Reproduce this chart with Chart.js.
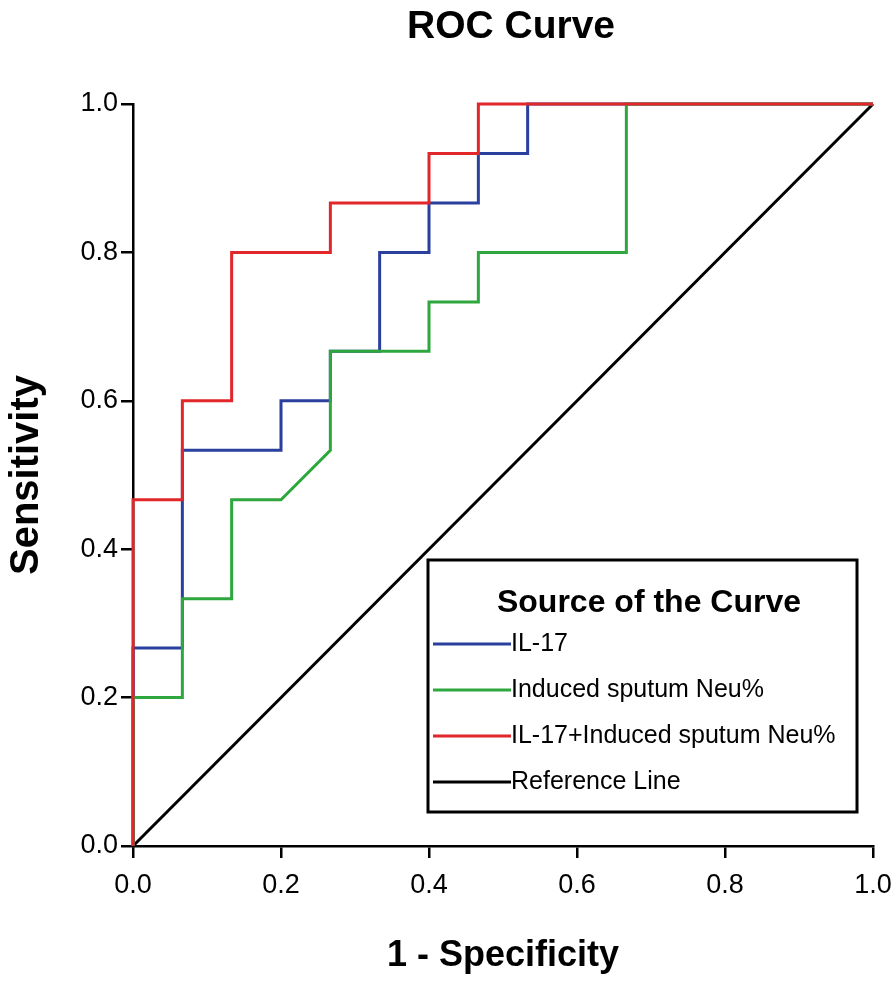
<!DOCTYPE html>
<html>
<head>
<meta charset="utf-8">
<title>ROC Curve</title>
<script src="https://cdn.jsdelivr.net/npm/chart.js@4.4.0/dist/chart.umd.min.js"></script>
<style>
  html, body { margin: 0; padding: 0; background: #fff; }
  #wrap { width: 896px; height: 981px; position: relative; }
</style>
</head>
<body>
<div id="wrap"><canvas id="rocChart"></canvas></div>
<script>
// data (steps of ~1/15)
const il17X = [0, 0, 0.0667, 0.0667, 0.2, 0.2, 0.2667, 0.2667, 0.3333, 0.3333, 0.4, 0.4, 0.4667, 0.4667, 0.5333, 0.5333, 1];
const il17Y = [0, 0.2667, 0.2667, 0.5333, 0.5333, 0.6, 0.6, 0.6667, 0.6667, 0.8, 0.8, 0.8667, 0.8667, 0.9333, 0.9333, 1, 1];

const neuX = [0, 0, 0.0667, 0.0667, 0.1333, 0.1333, 0.2, 0.2667, 0.2667, 0.4, 0.4, 0.4667, 0.4667, 0.6667, 0.6667, 1];
const neuY = [0, 0.2, 0.2, 0.3333, 0.3333, 0.4667, 0.4667, 0.5333, 0.6667, 0.6667, 0.7333, 0.7333, 0.8, 0.8, 1, 1];

const comboX = [0, 0, 0.0667, 0.0667, 0.1333, 0.1333, 0.2667, 0.2667, 0.4, 0.4, 0.4667, 0.4667, 1];
const comboY = [0, 0.4667, 0.4667, 0.6, 0.6, 0.8, 0.8, 0.8667, 0.8667, 0.9333, 0.9333, 1, 1];

const refX = [0, 1];
const refY = [0, 1];

const tickValues = [0, 0.2, 0.4, 0.6, 0.8, 1.0];
const seriesNames = ["IL-17", "Induced sputum Neu%", "IL-17+Induced sputum Neu%", "Reference Line"];
const seriesColors = ["#2b3f9e", "#2ea83e", "#e2272a", "#000000"];

const FONT = "'Liberation Sans', Arial, sans-serif";

function toPoints(xs, ys) {
  return xs.map((x, i) => ({ x: x, y: ys[i] }));
}

// legend box drawn inside the plot, like the SPSS one
const legendBox = {
  id: "legendBox",
  afterDatasetsDraw(chart) {
    const ctx = chart.ctx;
    const area = chart.chartArea;
    const left = area.left + 295;
    const top = area.top + 456;
    const w = 429;
    const h = 252;
    ctx.save();
    ctx.fillStyle = "#fff";
    ctx.fillRect(left, top, w, h);
    ctx.strokeStyle = "#000";
    ctx.lineWidth = 3;
    ctx.strokeRect(left, top, w, h);

    ctx.fillStyle = "#000";
    ctx.font = "bold 32px " + FONT;
    ctx.textAlign = "center";
    ctx.textBaseline = "middle";
    ctx.fillText("Source of the Curve", left + 221, top + 43);

    ctx.font = "25px " + FONT;
    ctx.textAlign = "left";
    seriesNames.forEach((name, i) => {
      const y = top + 84 + i * 46;
      ctx.strokeStyle = seriesColors[i];
      ctx.lineWidth = 3;
      ctx.beginPath();
      ctx.moveTo(left + 5, y);
      ctx.lineTo(left + 83, y);
      ctx.stroke();
      ctx.fillStyle = "#000";
      ctx.fillText(name, left + 83, y);
    });
    ctx.restore();
  }
};

const chartTitle = {
  id: "chartTitle",
  afterDraw(chart) {
    const ctx = chart.ctx;
    ctx.save();
    ctx.fillStyle = "#000";
    ctx.font = "bold 39px " + FONT;
    ctx.textAlign = "center";
    ctx.textBaseline = "alphabetic";
    ctx.fillText("ROC Curve", 511, 38);
    ctx.restore();
  }
};

const datasets = [
  { label: seriesNames[2], data: toPoints(comboX, comboY), borderColor: seriesColors[2], order: 0 },
  { label: seriesNames[1], data: toPoints(neuX, neuY), borderColor: seriesColors[1], order: 1 },
  { label: seriesNames[0], data: toPoints(il17X, il17Y), borderColor: seriesColors[0], order: 2 },
  { label: seriesNames[3], data: toPoints(refX, refY), borderColor: seriesColors[3], order: 3 }
].map(d => Object.assign(d, {
  showLine: true,
  borderWidth: 3,
  pointRadius: 0,
  tension: 0,
  fill: false,
  clip: false
}));

const axisStyle = {
  grid: { drawOnChartArea: false, drawTicks: true, tickLength: 12, color: "#000", lineWidth: 2.5 },
  border: { display: true, color: "#000", width: 2.5 }
};

const config = {
  type: "scatter",
  data: { datasets },
  options: {
    responsive: true,
    maintainAspectRatio: false,
    animation: false,
    devicePixelRatio: 1,
    layout: { padding: { top: 104, right: 23, left: 0, bottom: 0 } },
    plugins: {
      legend: { display: false },
      tooltip: { enabled: false },
      title: { display: false }
    },
    scales: {
      x: Object.assign({
        type: "linear",
        min: 0,
        max: 1,
        afterBuildTicks: s => { s.ticks = tickValues.map(v => ({ value: v })); },
        afterFit: s => { s.height = 135; s.paddingLeft = 0; s.paddingRight = 0; },
        ticks: {
          color: "#000",
          font: { family: FONT, size: 27 },
          padding: 11,
          callback: v => Number(v).toFixed(1)
        },
        title: {
          display: true,
          text: "1 - Specificity",
          color: "#000",
          font: { family: FONT, size: 36, weight: "bold" },
          padding: { top: 0, bottom: 3 }
        }
      }, axisStyle),
      y: Object.assign({
        type: "linear",
        min: 0,
        max: 1,
        afterBuildTicks: s => { s.ticks = tickValues.map(v => ({ value: v })); },
        afterFit: s => { s.width = 133; s.paddingTop = 0; s.paddingBottom = 0; },
        ticks: {
          color: "#000",
          font: { family: FONT, size: 27 },
          padding: 3,
          callback: v => Number(v).toFixed(1)
        },
        title: {
          display: true,
          text: "Sensitivity",
          color: "#000",
          font: { family: FONT, size: 40, weight: "bold" },
          padding: { top: 3, bottom: 0 }
        }
      }, axisStyle)
    }
  },
  plugins: [legendBox, chartTitle]
};

const rocChart = new Chart(document.getElementById("rocChart"), config);
</script>
</body>
</html>
